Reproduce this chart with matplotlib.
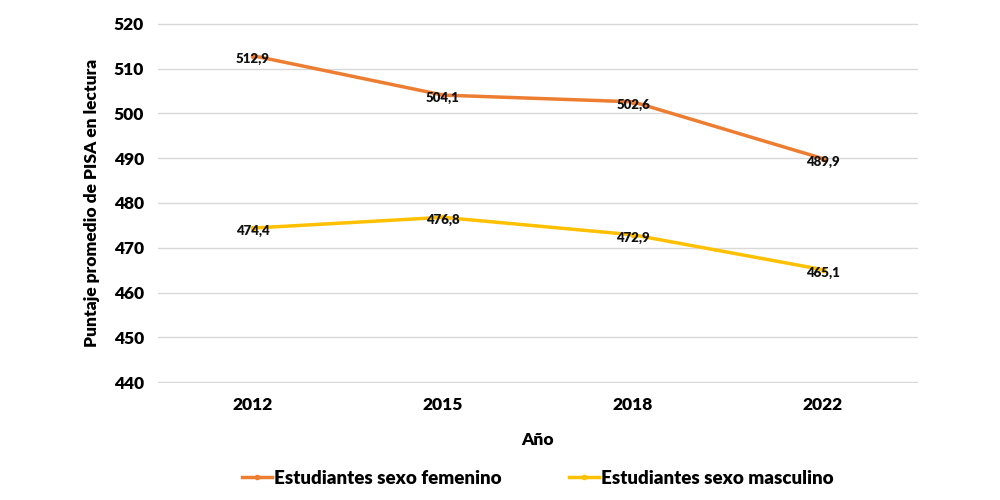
import numpy as np
import matplotlib.pyplot as plt

plt.rcParams['font.family'] = ['Lato', 'DejaVu Sans']

years = ["2012", "2015", "2018", "2022"]
femenino = [512.9, 504.1, 502.6, 489.9]
masculino = [474.4, 476.8, 472.9, 465.1]
yticks = [440, 450, 460, 470, 480, 490, 500, 510, 520]

fig = plt.figure(figsize=(10, 5), dpi=100)
ax = fig.add_axes([0.158, 0.234, 0.76, 0.72])

x = np.arange(len(years))
ax.plot(x, femenino, color='#ED7D31', linewidth=2.5, marker='o', markersize=3,
        label="Estudiantes sexo femenino")
ax.plot(x, masculino, color='#FFC000', linewidth=2.5, marker='o', markersize=3,
        label="Estudiantes sexo masculino")

for serie in (femenino, masculino):
    for xi, v in zip(x, serie):
        ax.annotate(f"{v:.1f}".replace('.', ','), (xi, v), xytext=(0, -2),
                    textcoords='offset points', ha='center', va='center',
                    fontsize=9.5, fontweight='heavy', color='#111111')

ax.set_xlim(-0.5, 3.5)
ax.set_ylim(439.8, 520.2)
ax.set_xticks(x)
ax.set_xticklabels(years, fontsize=12.5, fontweight='heavy')
ax.set_yticks(yticks)
ax.set_yticklabels([str(t) for t in yticks], fontsize=12.5, fontweight='heavy')
ax.tick_params(length=0, pad=10)
ax.yaxis.grid(True, color='#d9d9d9', linewidth=1)
ax.set_axisbelow(True)
for s in ax.spines.values():
    s.set_visible(False)

ax.set_xlabel("Año", fontsize=12.5, fontweight='heavy', labelpad=14)
ax.set_ylabel("Puntaje promedio de PISA en lectura", fontsize=12.5,
              fontweight='heavy', labelpad=10)

ax.legend(loc='center', bbox_to_anchor=(0.5, -0.264), ncol=2, frameon=False,
          prop={'size': 13.5, 'weight': 'heavy'}, handlelength=1.6,
          columnspacing=3.6, handletextpad=0.1)

fig.savefig("out.png", dpi=100, facecolor='white')
